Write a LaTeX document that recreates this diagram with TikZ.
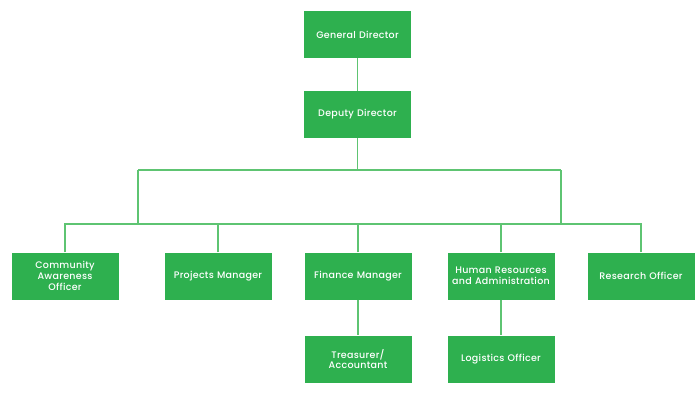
\documentclass[tikz,border=0pt]{standalone}
\usepackage{fontspec}
\setmainfont{Poppins}[UprightFont=* Medium,LetterSpace=3]
\definecolor{boxgreen}{HTML}{2EB04F}
\definecolor{linegreen}{HTML}{5EC472}
\begin{document}
\begin{tikzpicture}[x=1pt,y=-1pt,
  orgbox/.style={fill=boxgreen,draw=none,minimum width=107pt,minimum height=47pt,inner sep=0pt,
    text=white,font=\fontsize{9.5}{10.8}\selectfont,align=center,text width=105pt},
  link/.style={draw=linegreen,line width=1.3pt}]
\useasboundingbox (0,0) rectangle (700,400);
\node[orgbox] (gd) at (357.5,34.5) {General Director};
\node[orgbox] (dd) at (357.5,114.5) {Deputy Director};
\node[orgbox] (ca) at (65,276) {Community\\Awareness\\Officer};
\node[orgbox] (pm) at (218,276) {Projects Manager};
\node[orgbox] (fm) at (358,276) {Finance Manager};
\node[orgbox] (hr) at (501,276) {Human Resources\\and Administration};
\node[orgbox] (ro) at (641,276) {Research Officer};
\node[orgbox] (ta) at (358,359) {Treasurer/\\Accountant};
\node[orgbox] (lo) at (501,359) {Logistics Officer};
\coordinate (top) at (357.5,170);
\coordinate (tl) at (138,170);
\coordinate (tr) at (561,170);
\coordinate (ml) at (138,224);
\coordinate (mr) at (561,224);
\draw[link] (gd) -- (dd);
\draw[link] (dd) -- (top);
\draw[link] (tl) -- (tr);
\draw[link] (tl) -- (ml);
\draw[link] (tr) -- (mr);
\draw[link] (ca.north) |- (mr);
\draw[link] (ro.north) |- (ml);
\draw[link] (pm.north) -- (pm.north |- ml);
\draw[link] (fm.north) -- (fm.north |- ml);
\draw[link] (hr.north) -- (hr.north |- ml);
\draw[link] (fm) -- (ta);
\draw[link] (hr) -- (lo);
\end{tikzpicture}
\end{document}
